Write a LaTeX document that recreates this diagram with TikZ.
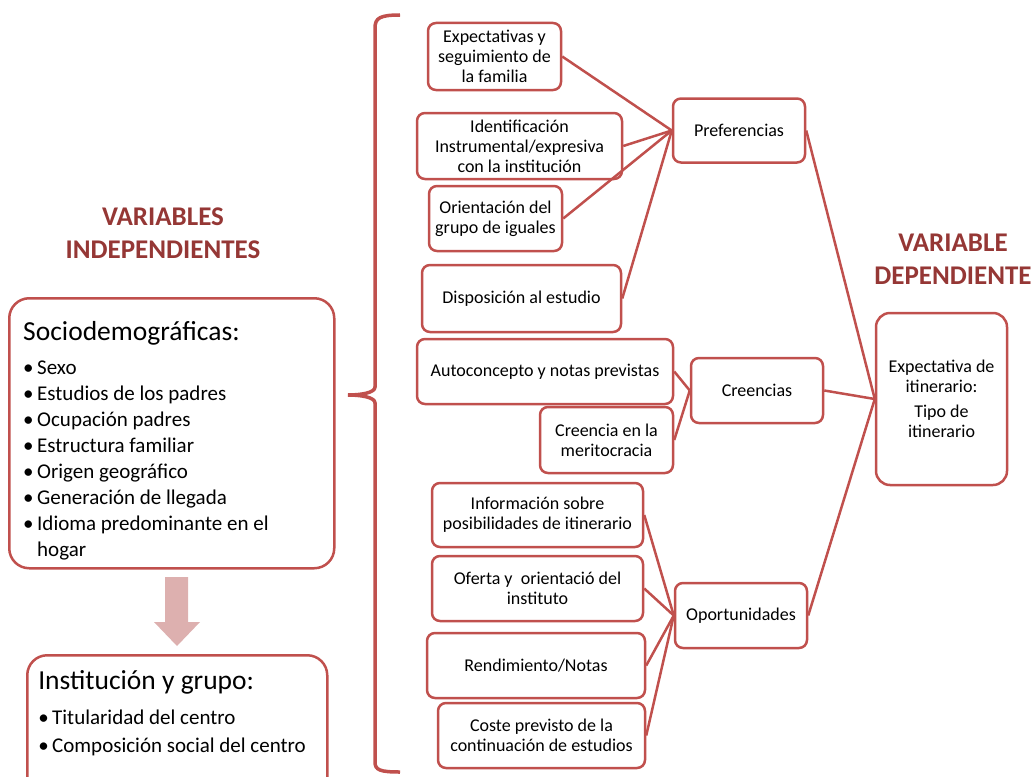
\documentclass[tikz,border=0pt]{standalone}
\usepackage{fontspec}
\setmainfont{Carlito}
\definecolor{rojo}{HTML}{C0504D}
\definecolor{rojoosc}{HTML}{953735}
\definecolor{rosa}{HTML}{DDB0AF}

\begin{document}
\begin{tikzpicture}
[x=1pt,y=-1pt,
caja/.style={draw=rojo,line width=2.5pt,rounded corners=8pt,align=flush center,inner sep=2pt,
  font=\fontsize{18}{20}\selectfont},
grande/.style={draw=rojo,line width=2.5pt,rounded corners=20pt,align=flush left,anchor=north west,
  font=\fontsize{21}{26}\selectfont},
enlace/.style={draw=rojo,line width=2.5pt},
titulo/.style={text=rojoosc,align=flush center,font=\bfseries\fontsize{27}{33}\selectfont}]
\clip (0,0) rectangle (1035,776);

\node[titulo] (titind) at (163,233.5) {VARIABLES\\INDEPENDIENTES};
\node[titulo] (titdep) at (953,259.5) {VARIABLE\\DEPENDIENTE};

\node[grande,minimum width=325pt,minimum height=270pt,inner xsep=14pt,text width=297pt]
 (socio) at (8,297) {{\fontsize{27.5}{30}\selectfont\rule{0pt}{34pt}Sociodemográficas:}\\[8pt]
\textbullet\,Sexo\\
\textbullet\,Estudios de los padres\\
\textbullet\,Ocupación padres\\
\textbullet\,Estructura familiar\\
\textbullet\,Origen geográfico\\
\textbullet\,Generación de llegada\\
\textbullet\,Idioma predominante en el\\
\phantom{\textbullet\,}hogar};

\fill[rosa] (165,577) -- (188,577) -- (188,622) -- (200,622) -- (177,646) -- (154,622)
 -- (165,622) -- cycle;

\node[grande,minimum width=300pt,inner xsep=11pt,inner ysep=15pt,text width=278pt,
 font=\fontsize{21}{28}\selectfont]
 (instit) at (26,654) {{\fontsize{27.5}{30}\selectfont Institución y grupo:}\\[7pt]
\textbullet\,Titularidad del centro\\
\textbullet\,Composición social del centro\rule[-50pt]{0pt}{0pt}};

\draw[rojo,line width=3.5pt] (400,15) .. controls (380,15) and (375,18) .. (375,28)
 -- (375,387) .. controls (375,393) and (360,395) .. (348,395)
 .. controls (360,395) and (375,397) .. (375,403)
 -- (375,762) .. controls (375,770) and (380,772) .. (400,772);

\node[caja,minimum width=133pt,minimum height=67pt] (expfam) at (494.5,56.5)
 {Expectativas y\\seguimiento de\\la familia};
\node[caja,minimum width=205pt,minimum height=66pt] (ident) at (519.5,146)
 {Identificación\\Instrumental/expresiva\\con la institución};
\node[caja,minimum width=133pt,minimum height=65pt] (orient) at (495.5,218.5)
 {Orientación del\\grupo de iguales};
\node[caja,minimum width=199pt,minimum height=67pt] (dispos) at (521.5,298.5)
 {Disposición al estudio};
\node[caja,minimum width=256pt,minimum height=65pt] (autocon) at (545,371.5)
 {Autoconcepto y notas previstas};
\node[caja,minimum width=133pt,minimum height=66pt] (merito) at (606.5,440)
 {Creencia en la\\meritocracia};
\node[caja,minimum width=211pt,minimum height=64pt] (info) at (537.5,515)
 {Información sobre\\posibilidades de itinerario};
\node[caja,minimum width=211pt,minimum height=65pt] (oferta) at (537.5,588.5)
 {Oferta y~ orientació del\\instituto};
\node[caja,minimum width=218pt,minimum height=65pt] (rendim) at (536,665.5)
 {Rendimiento/Notas};
\node[caja,minimum width=207pt,minimum height=65pt] (coste) at (541.5,735.5)
 {Coste previsto de la\\continuación de estudios};

\node[caja,minimum width=132pt,minimum height=64pt] (prefer) at (739,130.5) {Preferencias};
\node[caja,minimum width=132pt,minimum height=65pt] (creenc) at (757,390.5) {Creencias};
\node[caja,minimum width=132pt,minimum height=65pt] (oportu) at (741,615.5) {Oportunidades};

\node[caja,rounded corners=14pt,minimum width=131pt,minimum height=172pt] (expit) at (941.5,399)
 {Expectativa de\\itinerario:\\[5pt]Tipo de\\itinerario};

\draw[enlace] (expfam.east) -- (prefer.west);
\draw[enlace] (ident.east) -- (prefer.west);
\draw[enlace] (orient.east) -- (prefer.west);
\draw[enlace] (dispos.east) -- (prefer.west);

\draw[enlace] (autocon.east) -- (creenc.west);
\draw[enlace] (merito.east) -- (creenc.west);

\draw[enlace] (info.east) -- (oportu.west);
\draw[enlace] (oferta.east) -- (oportu.west);
\draw[enlace] (rendim.east) -- (oportu.west);
\draw[enlace] (coste.east) -- (oportu.west);

\draw[enlace] (prefer.east) -- (expit.west);
\draw[enlace] (creenc.east) -- (expit.west);
\draw[enlace] (oportu.east) -- (expit.west);
\end{tikzpicture}
\end{document}
